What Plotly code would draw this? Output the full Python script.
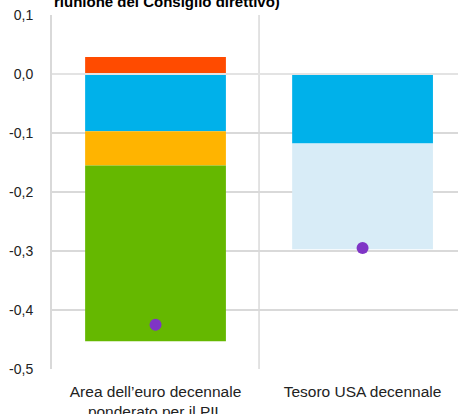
import plotly.graph_objects as go

categories = ["Area dell\u2019euro decennale<br>ponderato per il PIL", "Tesoro USA decennale"]
x_pos = [0, 1]

# stacked components (euro area, US)
red_vals = [0.029, 0.0]
blue_vals = [-0.097, -0.118]
orange_vals = [-0.058, 0.0]
green_vals = [-0.298, 0.0]
lightblue_vals = [0.0, -0.179]
dot_vals = [-0.425, -0.295]

ytick_vals = [0.1, 0.0, -0.1, -0.2, -0.3, -0.4, -0.5]
ytick_text = ["0,1", "0,0", "-0,1", "-0,2", "-0,3", "-0,4", "-0,5"]

title_text = "riunione del Consiglio direttivo)"

FONT = "Liberation Sans, Arial, sans-serif"
GRID = "#d9d9d9"

fig = go.Figure()
bw = 0.68
for vals, col in [(red_vals, "#FF4B00"), (blue_vals, "#00B1EA"), (orange_vals, "#FFB400"),
                  (green_vals, "#65B800"), (lightblue_vals, "#D8ECF7")]:
    fig.add_trace(go.Bar(x=x_pos, y=vals, width=bw, marker=dict(color=col, line=dict(width=0)),
                         showlegend=False, hoverinfo="skip"))

fig.add_trace(go.Scatter(x=x_pos, y=dot_vals, mode="markers",
                         marker=dict(size=12, color="#7F35C6"), showlegend=False))

fig.update_layout(
    barmode="relative",
    width=458, height=414,
    margin=dict(l=52, r=0, t=15, b=45),
    plot_bgcolor="white", paper_bgcolor="white",
    font=dict(family=FONT, size=12, color="#222"),
    shapes=[
        dict(type="line", xref="x", yref="y", x0=0.5, x1=0.5, y0=-0.5, y1=0.1,
             line=dict(color=GRID, width=1.5), layer="below"),
        dict(type="line", xref="paper", yref="y", x0=0, x1=1, y0=0, y1=0,
             line=dict(color="#e3e3e3", width=2), layer="above"),
    ],
    annotations=[dict(text="<b>" + title_text + "</b>", xref="paper", yref="paper",
                      x=0, y=1.039, xanchor="left", yanchor="middle", showarrow=False,
                      font=dict(family=FONT, size=15, color="#000"))],
)
fig.update_xaxes(range=[-0.5, 1.461], tickvals=x_pos, ticktext=categories, showgrid=False,
                 zeroline=False, showline=False, ticks="", ticklabelstandoff=11,
                 automargin=False,
                 tickfont=dict(family=FONT, size=15.5, color="#222"))
fig.update_yaxes(range=[-0.5, 0.1], tickvals=ytick_vals, ticktext=ytick_text, showgrid=True,
                 gridcolor=GRID, gridwidth=1.5, zeroline=False, showline=True, linecolor=GRID,
                 linewidth=2, ticks="", ticklabelstandoff=14, automargin=False,
                 tickfont=dict(family=FONT, size=14, color="#222"))

fig.write_html("out.html")
